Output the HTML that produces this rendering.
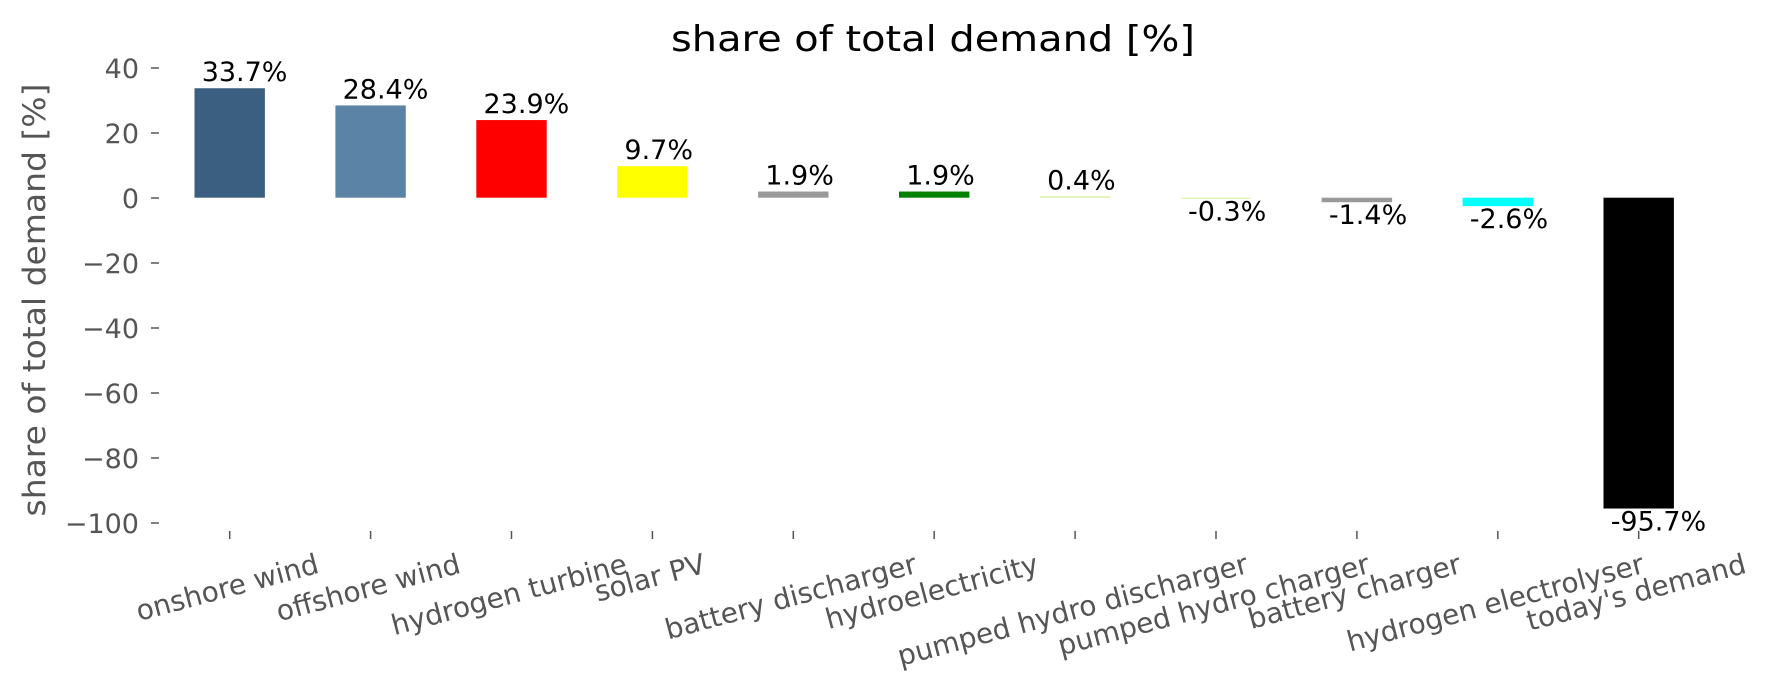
<!DOCTYPE html>
<html><head><meta charset="utf-8"><style>
html,body{margin:0;padding:0;background:#fff;}
svg{display:block;font-family:"DejaVu Sans","Liberation Sans",sans-serif;}
</style></head><body>
<svg id="s" width="1770" height="689" viewBox="0 0 1770 689" xmlns="http://www.w3.org/2000/svg">
<rect width="1770" height="689" fill="#fff"/>
<text x="933" y="51" font-size="36" text-anchor="middle" textLength="524" lengthAdjust="spacingAndGlyphs" fill="#000">share of total demand [%]</text>
<text transform="translate(45,300) rotate(-90)" font-size="31" text-anchor="middle" textLength="433" lengthAdjust="spacingAndGlyphs" fill="#555">share of total demand [%]</text>
<g fill="#555" font-size="27" text-anchor="end">
<text x="139" y="78">40</text>
<text x="139" y="143">20</text>
<text x="139" y="208">0</text>
<text x="139" y="273">−20</text>
<text x="139" y="338">−40</text>
<text x="139" y="403">−60</text>
<text x="139" y="468">−80</text>
<text x="139" y="533">−100</text>
</g>
<g stroke="#555" stroke-width="1.5">
<line x1="151" x2="159" y1="68" y2="68"/><line x1="151" x2="159" y1="133" y2="133"/>
<line x1="151" x2="159" y1="198" y2="198"/><line x1="151" x2="159" y1="263" y2="263"/>
<line x1="151" x2="159" y1="328" y2="328"/><line x1="151" x2="159" y1="393" y2="393"/>
<line x1="151" x2="159" y1="458" y2="458"/><line x1="151" x2="159" y1="523" y2="523"/>
</g>
<g id="bars"></g>
<g id="xl" fill="#555" font-size="28"></g>
</svg>
<script>
var data=[["onshore wind",33.7,"#3b5f80"],["offshore wind",28.4,"#5b83a5"],["hydrogen turbine",23.9,"#ff0000"],["solar PV",9.7,"#ffff00"],["battery discharger",1.9,"#999999"],["hydroelectricity",1.9,"#008000"],["pumped hydro discharger",0.4,"#d6f29c"],["pumped hydro charger",-0.3,"#d6f29c"],["battery charger",-1.4,"#999999"],["hydrogen electrolyser",-2.6,"#00ffff"],["today's demand",-95.7,"#000000"]];
var NS="http://www.w3.org/2000/svg",z=197.7,k=3.248,bars=document.getElementById("bars"),xl=document.getElementById("xl");
function el(t,a,p,tx){var e=document.createElementNS(NS,t);for(var q in a)e.setAttribute(q,a[q]);if(tx!=null)e.textContent=tx;p.appendChild(e);return e;}
data.forEach(function(d,i){
 var cx=229.7+i*140.9,v=d[1],y=v>=0?z-v*k:z,h=Math.abs(v)*k;
 el("rect",{x:cx-35.2,y:y,width:70.4,height:Math.max(h,1),fill:d[2]},bars);
 var ty=v>=0?(z-v*k-7):(z-v*k+22);
 el("text",{x:cx-28,y:ty,"font-size":"27",fill:"#000"},bars,v.toFixed(1)+"%");
 el("line",{x1:cx,x2:cx,y1:531,y2:539,stroke:"#555","stroke-width":"1.5"},bars);
 var t=el("text",{"text-anchor":"middle"},xl,d[0]);
 var L=t.getComputedTextLength?t.getComputedTextLength():d[0].length*15;
 var cy=548+(L*0.2588+32*0.9659)/2;
 t.setAttribute("transform","translate("+cx+","+(cy+9)+") rotate(-15)");
});
</script>
</body></html>
